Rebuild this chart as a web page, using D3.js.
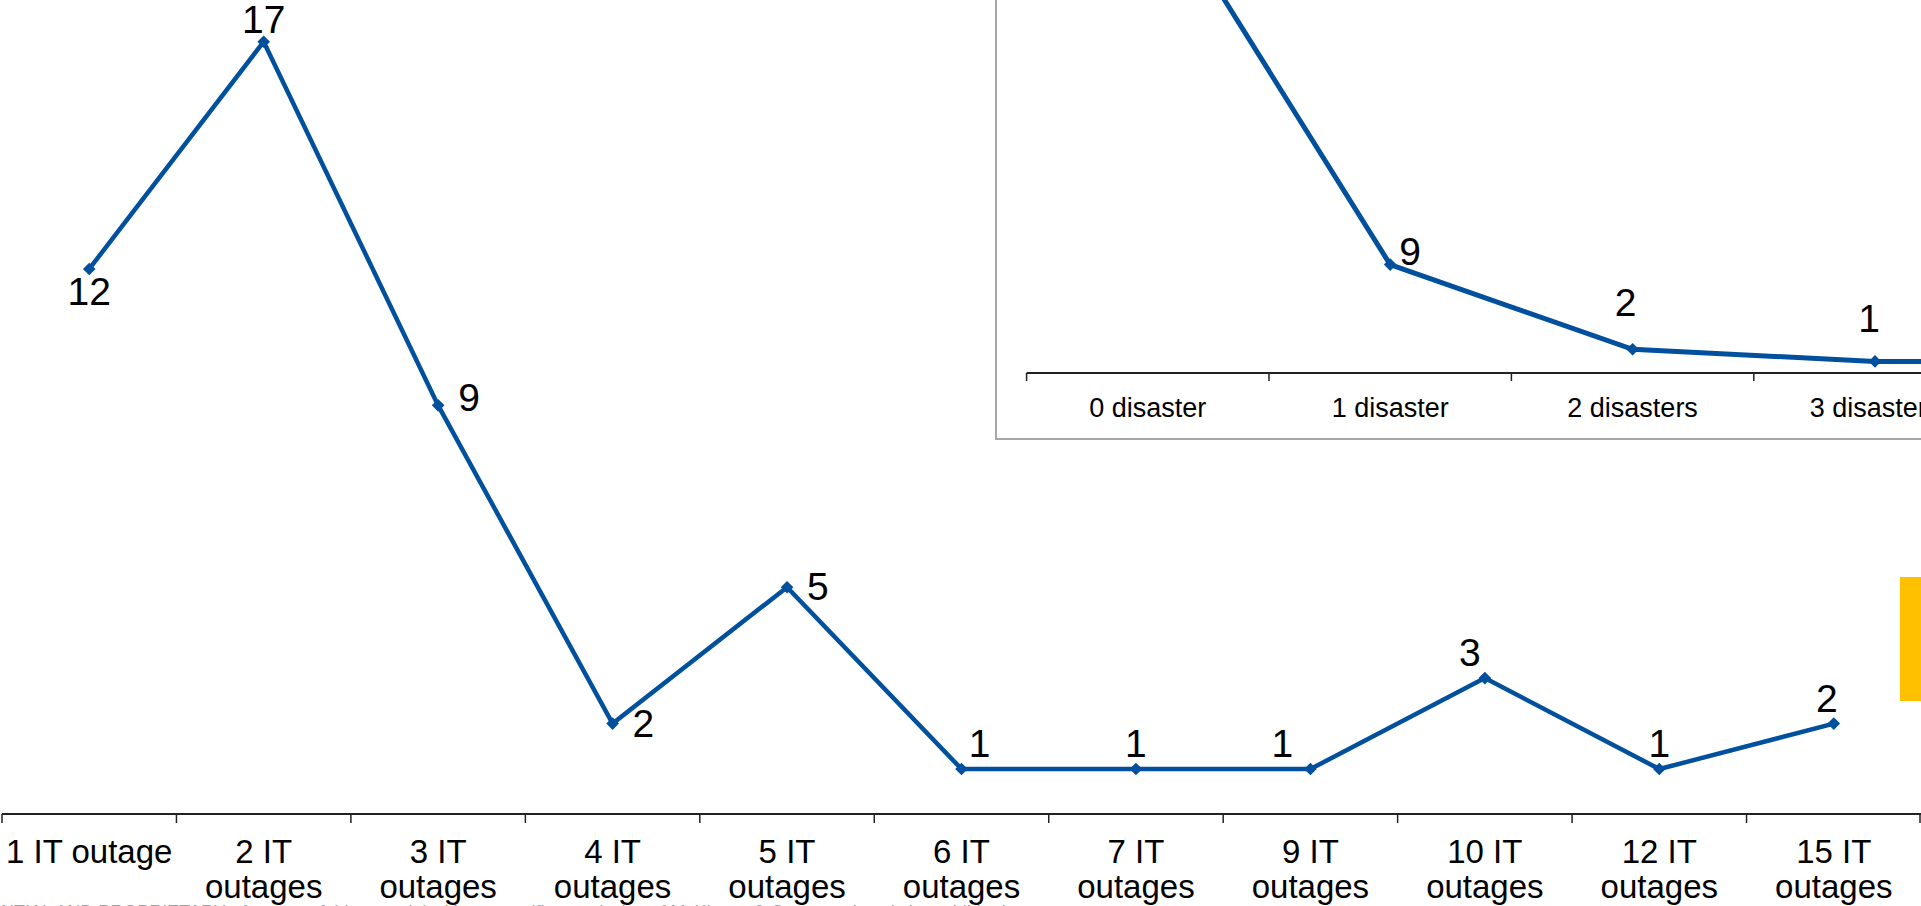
<!DOCTYPE html>
<html>
<head>
<meta charset="utf-8">
<script src="https://cdn.jsdelivr.net/npm/d3@7"></script>
<style>
  html, body { margin: 0; padding: 0; background: #fff; overflow: hidden; }
  svg { display: block; font-family: "Liberation Sans", Arial, sans-serif; }
</style>
</head>
<body>
<svg id="chart" width="1921" height="906"></svg>
<script>
// Number of firms by count of IT outages
const categories = ["1 IT outage", "2 IT outages", "3 IT outages", "4 IT outages", "5 IT outages",
  "6 IT outages", "7 IT outages", "9 IT outages", "10 IT outages", "12 IT outages", "15 IT outages"];
const outageCounts = [12, 17, 9, 2, 5, 1, 1, 1, 3, 1, 2];
const labelPlacement = ["below", "aboveTight", "rightHigh", "right", "right",
  "aboveRight", "above", "aboveFarLeft", "aboveLeft", "above", "aboveNudgeLeft"];

// Number of firms by count of disasters (inset)
const disasterCategories = ["0 disaster", "1 disaster", "2 disasters", "3 disasters", "4 disasters"];
const disasterCounts = [41, 9, 2, 1, 1];
const disasterPlacement = ["aboveHigh", "rightUp", "aboveHigher", "aboveHigh", "aboveHigh"];

const footerText = "CONFIDENTIAL AND PROPRIETARY   Any use of this material without specific permission of McKinsey & Company is strictly prohibited";

const BLUE = "#00509E";
const svg = d3.select("#chart");

// ---------- main chart ----------
const axisY = 814;
const x = d3.scaleBand().domain(categories).range([2, 1921]).padding(0);
const y = d3.scaleLinear().domain([0, 17]).range([814.5, 41.7]);

const main = svg.append("g");

// category axis with ticks at band boundaries
main.append("line")
  .attr("x1", x.range()[0]).attr("x2", x.range()[1])
  .attr("y1", axisY).attr("y2", axisY)
  .attr("stroke", "#222").attr("stroke-width", 2);
const bounds = categories.map(c => x(c)).concat([x.range()[1] - 1]);
main.selectAll("line.tick").data(bounds).join("line")
  .attr("class", "tick")
  .attr("x1", d => d).attr("x2", d => d)
  .attr("y1", axisY).attr("y2", axisY + 9)
  .attr("stroke", "#222").attr("stroke-width", 1.5);

function wrapLabels(sel, width, lineHeight) {
  sel.each(function (d) {
    const t = d3.select(this);
    const words = d.split(" ");
    const xPos = t.attr("x");
    t.text(null);
    let line = [];
    let tspan = t.append("tspan").attr("x", xPos).attr("dy", 0);
    words.forEach(w => {
      line.push(w);
      tspan.text(line.join(" "));
      if (tspan.node().getComputedTextLength() > width && line.length > 1) {
        line.pop();
        tspan.text(line.join(" "));
        line = [w];
        tspan = t.append("tspan").attr("x", xPos).attr("dy", lineHeight).text(w);
      }
    });
  });
}

main.selectAll("text.cat").data(categories).join("text")
  .attr("class", "cat")
  .attr("x", d => x(d) + x.bandwidth() / 2)
  .attr("y", 863)
  .attr("text-anchor", "middle")
  .attr("font-size", 33)
  .attr("fill", "#000")
  .text(d => d)
  .call(wrapLabels, x.bandwidth() - 4, 35);

const pts = categories.map((c, i) => ({ c, v: outageCounts[i], p: labelPlacement[i] }));
const line = d3.line().x(d => x(d.c) + x.bandwidth() / 2).y(d => y(d.v));

main.append("path").datum(pts)
  .attr("d", line)
  .attr("fill", "none").attr("stroke", BLUE).attr("stroke-width", 4.5)
  .attr("stroke-linejoin", "miter");

const diamond = d3.symbol().type(d3.symbolSquare).size(80);
main.selectAll("path.mk").data(pts).join("path")
  .attr("class", "mk")
  .attr("d", diamond)
  .attr("transform", d => `translate(${x(d.c) + x.bandwidth() / 2},${y(d.v)}) rotate(45)`)
  .attr("fill", BLUE);

// label offsets relative to the marker, by placement keyword
const placements = {
  below:          { dx: 0,   dy: 36,  anchor: "middle" },
  above:          { dx: 0,   dy: -12, anchor: "middle" },
  aboveTight:     { dx: 0,   dy: -9,  anchor: "middle" },
  aboveLeft:      { dx: -15, dy: -12, anchor: "middle" },
  aboveFarLeft:   { dx: -28, dy: -12, anchor: "middle" },
  aboveNudgeLeft: { dx: -7,  dy: -12, anchor: "middle" },
  aboveRight:     { dx: 18,  dy: -12, anchor: "middle" },
  right:          { dx: 20,  dy: 13,  anchor: "start" },
  rightHigh:      { dx: 20,  dy: 6,   anchor: "start" },
  rightUp:        { dx: 9,   dy: 0,   anchor: "start" },
  aboveHigh:      { dx: -6,  dy: -29, anchor: "middle" },
  aboveHigher:    { dx: -7,  dy: -33, anchor: "middle" }
};

function placeLabel(sel, xs, ys) {
  sel.each(function (d) {
    const o = placements[d.p];
    d3.select(this)
      .attr("x", xs(d) + o.dx)
      .attr("y", ys(d) + o.dy)
      .attr("text-anchor", o.anchor);
  });
}

main.selectAll("text.val").data(pts).join("text")
  .attr("class", "val")
  .attr("font-size", 39)
  .attr("fill", "#000")
  .text(d => d.v)
  .call(placeLabel, d => x(d.c) + x.bandwidth() / 2, d => y(d.v));

// ---------- inset chart ----------
const inset = svg.append("g");
inset.append("rect")
  .attr("x", 996).attr("y", -20).attr("width", 1000).attr("height", 459)
  .attr("fill", "#fff").attr("stroke", "#a6a6a6").attr("stroke-width", 2);

const ix = d3.scaleBand().domain(disasterCategories).range([1026.6, 1026.6 + 5 * 242.4]).padding(0);
const iy = d3.scaleLinear().domain([0, 9]).range([373.5, 264.6]);
const iAxisY = 373;

inset.append("line")
  .attr("x1", ix.range()[0]).attr("x2", 1921)
  .attr("y1", iAxisY).attr("y2", iAxisY)
  .attr("stroke", "#222").attr("stroke-width", 2);
inset.selectAll("line.itick").data(disasterCategories.map(c => ix(c))).join("line")
  .attr("class", "itick")
  .attr("x1", d => d).attr("x2", d => d)
  .attr("y1", iAxisY).attr("y2", iAxisY + 8)
  .attr("stroke", "#222").attr("stroke-width", 1.5);

inset.selectAll("text.icat").data(disasterCategories).join("text")
  .attr("class", "icat")
  .attr("x", d => ix(d) + ix.bandwidth() / 2)
  .attr("y", 416.5)
  .attr("text-anchor", "middle")
  .attr("font-size", 27)
  .attr("fill", "#000")
  .text(d => d);

const ipts = disasterCategories.map((c, i) => ({ c, v: disasterCounts[i], p: disasterPlacement[i] }));
const iline = d3.line().x(d => ix(d.c) + ix.bandwidth() / 2).y(d => iy(d.v));

inset.append("path").datum(ipts)
  .attr("d", iline)
  .attr("fill", "none").attr("stroke", BLUE).attr("stroke-width", 5);

inset.selectAll("path.imk").data(ipts).join("path")
  .attr("class", "imk")
  .attr("d", diamond)
  .attr("transform", d => `translate(${ix(d.c) + ix.bandwidth() / 2},${iy(d.v)}) rotate(45)`)
  .attr("fill", BLUE);

inset.selectAll("text.ival").data(ipts).join("text")
  .attr("class", "ival")
  .attr("font-size", 39)
  .attr("fill", "#000")
  .text(d => d.v)
  .call(placeLabel, d => ix(d.c) + ix.bandwidth() / 2, d => iy(d.v));

// ---------- page furniture ----------
svg.append("rect")
  .attr("x", 1900).attr("y", 577).attr("width", 30).attr("height", 124)
  .attr("fill", "#FFC000");

svg.append("text")
  .attr("x", -80).attr("y", 918)
  .attr("font-size", 18)
  .attr("fill", "#a0a0a0")
  .attr("xml:space", "preserve")
  .text(footerText);
</script>
</body>
</html>
